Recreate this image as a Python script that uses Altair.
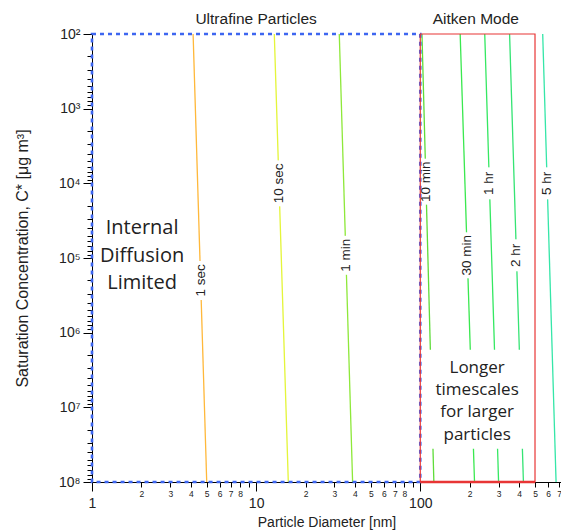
import math

import altair as alt
import pandas as pd

# Equilibration-timescale contours: particle diameter [nm] where each contour
# meets C* = 1e2 (top edge) and C* = 1e8 (bottom edge)
contour_names = ["1 sec", "10 sec", "1 min", "10 min", "30 min", "1 hr", "2 hr", "5 hr"]
diam_at_top = [4.13, 12.9, 32.1, 102.4, 175.0, 247.0, 350.0, 557.0]
diam_at_bottom = [5.0, 15.7, 38.7, 121.0, 214.0, 300.0, 425.0, 672.0]
contour_colors = ["#ffb83a", "#e4f53a", "#8ee83a", "#5fdc3a",
                  "#3ae84f", "#35e862", "#35e474", "#35e6a8"]
# C* at which each contour carries its label
label_cstar = [2.0e5, 1.0e4, 9.2e4, 9.5e3, 9.2e4, 1.0e4, 9.2e4, 1.0e4]

cstar_top = 1e2
cstar_bottom = 1e8

# Size-regime boxes
region_names = ["Ultrafine Particles", "Aitken Mode"]
region_lo = [1, 100]
region_hi = [100, 500]
region_title_x = [10, 218]

# Free-text notes
note_texts = ["Internal\nDiffusion\nLimited", "Longer\ntimescales\nfor larger\nparticles"]
note_x = [2.02, 222]
note_cstar = [9.4e4, 8.3e6]
note_sizes = [20, 17]
note_line_heights = [27.5, 22.3]

# White panel behind the second note
mask_x = [104, 456]
mask_cstar = [1.7e6, 3.6e7]

x_ticks = [k * 10 ** n for n in range(0, 3) for k in range(1, 10)]
y_ticks = [k * 10 ** n for n in range(2, 8) for k in range(1, 10)] + [10 ** 8]


def on_contour(top, bottom, c):
    """Diameter of a (log-log straight) contour at saturation concentration c."""
    t = (math.log10(c) - math.log10(cstar_top)) / (math.log10(cstar_bottom) - math.log10(cstar_top))
    return 10 ** (math.log10(top) + t * (math.log10(bottom) - math.log10(top)))


lines = pd.DataFrame(
    [{"contour": n, "cstar": cstar_top, "d": t} for n, t in zip(contour_names, diam_at_top)]
    + [{"contour": n, "cstar": cstar_bottom, "d": b} for n, b in zip(contour_names, diam_at_bottom)]
)
labels = pd.DataFrame({
    "contour": contour_names,
    "cstar": label_cstar,
    "d": [on_contour(t, b, c) for t, b, c in zip(diam_at_top, diam_at_bottom, label_cstar)],
    "gap": [len(n) * 7 + 4 for n in contour_names],
})
regions = pd.DataFrame({
    "name": region_names, "lo": region_lo, "hi": region_hi, "tx": region_title_x,
    "top": [cstar_top] * 2, "bottom": [cstar_bottom] * 2,
})
notes = pd.DataFrame({"text": note_texts, "x": note_x, "cstar": note_cstar})
mask = pd.DataFrame({"x": [mask_x[0]], "x2": [mask_x[1]],
                     "y": [mask_cstar[0]], "y2": [mask_cstar[1]]})

FONT = "Liberation Sans"
major = "abs(log(datum.value) / LN10 - round(log(datum.value) / LN10)) < 0.001"
lead = "round(datum.value / pow(10, floor(log(datum.value) / LN10 + 0.001)))"
sup = "['\u2070','\u00b9','\u00b2','\u00b3','\u2074','\u2075','\u2076','\u2077','\u2078']"

x_scale = alt.Scale(type="log", domain=[1, 720], nice=False)
y_scale = alt.Scale(type="log", domain=[cstar_top, cstar_bottom], reverse=True, nice=False)

x_axis = alt.Axis(
    title="Particle Diameter [nm]",
    values=x_ticks,
    labelExpr=f"{lead} == 1 ? format(datum.value, 'd') : ({lead} == 9 ? '' : format({lead}, 'd'))",
    labelFontSize={"condition": {"test": major, "value": 14}, "value": 8.5},
    labelPadding={"condition": {"test": major, "value": 5}, "value": 2},
    tickSize={"condition": {"test": major, "value": 9}, "value": 5},
    labelOverlap=False, labelFlush=False, grid=False,
    domainColor="black", tickColor="black", labelColor="#222",
    labelFont=FONT, titleFont=FONT, titleFontSize=14, titleFontWeight="normal",
    titleColor="#222", titlePadding=5,
)
y_axis = alt.Axis(
    title="Saturation Concentration, C* [\u03bcg m\u00b3]",
    values=y_ticks,
    labelExpr=f"({major}) ? '10' + {sup}[round(log(datum.value) / LN10)] : ''",
    tickSize={"condition": {"test": major, "value": 9}, "value": 5},
    labelFontSize=14, labelPadding=3,
    labelOverlap=False, labelFlush=False, grid=False,
    domainColor="black", tickColor="black", labelColor="#222",
    labelFont=FONT, titleFont=FONT, titleFontSize=16, titleFontWeight="normal",
    titleColor="#222", titleX=-70, titleBaseline="middle",
)


def X(field):
    return alt.X(field, type="quantitative", scale=x_scale, axis=x_axis)


def Y(field):
    return alt.Y(field, type="quantitative", scale=y_scale, axis=y_axis)


contour_lines = alt.Chart(lines).mark_line(strokeWidth=1.3).encode(
    x=X("d"),
    y=Y("cstar"),
    color=alt.Color("contour:N", scale=alt.Scale(domain=contour_names, range=contour_colors), legend=None),
    detail="contour:N",
)

note_mask = alt.Chart(mask).mark_rect(color="white").encode(
    x=X("x"), x2="x2:Q", y=Y("y"), y2="y2:Q",
)

label_gaps = alt.Chart(labels).mark_tick(orient="vertical", color="white", thickness=6, opacity=1).encode(
    x=X("d"),
    y=Y("cstar"),
    size=alt.Size("gap:Q", scale=None, legend=None),
)

label_text = alt.Chart(labels).mark_text(
    angle=270, align="center", baseline="middle", font=FONT, fontSize=13.5, color="#222"
).encode(
    x=X("d"),
    y=Y("cstar"),
    text="contour:N",
)

ultrafine = regions[regions["name"] == region_names[0]]
aitken = regions[regions["name"] == region_names[1]]

ultrafine_box = alt.Chart(ultrafine).mark_rect(
    filled=False, stroke="#3d66f0", strokeWidth=2.6, strokeDash=[4, 4]
).encode(
    x=X("lo"), x2="hi:Q", y=Y("top"), y2="bottom:Q",
)

aitken_box = alt.Chart(aitken).mark_rect(
    filled=False, stroke="#e83535", strokeWidth=1.2
).encode(
    x=X("lo"), x2="hi:Q", y=Y("top"), y2="bottom:Q",
)

aitken_base = alt.Chart(aitken).mark_rule(stroke="#e83535", strokeWidth=2.4).encode(
    x=X("lo"), x2="hi:Q", y=Y("bottom"),
)

region_titles = alt.Chart(regions).mark_text(
    font=FONT, fontSize=15.5, color="#222", baseline="middle", dy=-15
).encode(
    x=X("tx"),
    y=Y("top"),
    text="name:N",
)

note_layers = []
for text, size, lh in zip(note_texts, note_sizes, note_line_heights):
    n_lines = text.count("\n") + 1
    note_layers.append(
        alt.Chart(notes[notes["text"] == text]).mark_text(
            font="Open Sans", fontSize=size, lineHeight=lh, lineBreak="\n",
            color="#222", align="center", baseline="middle",
            dy=-(n_lines - 1) * lh / 2,
        ).encode(
            x=X("x"),
            y=Y("cstar"),
            text="text:N",
        )
    )

chart = alt.layer(
    contour_lines, note_mask, label_gaps, label_text,
    ultrafine_box, aitken_box, aitken_base, region_titles, *note_layers,
).properties(
    width=469, height=448,
    autosize="none",
    padding={"left": 92, "top": 34, "right": 0, "bottom": 50},
    background="white",
).configure_view(stroke=None)

chart.save("out.html", embed_options={"renderer": "svg", "actions": False})
